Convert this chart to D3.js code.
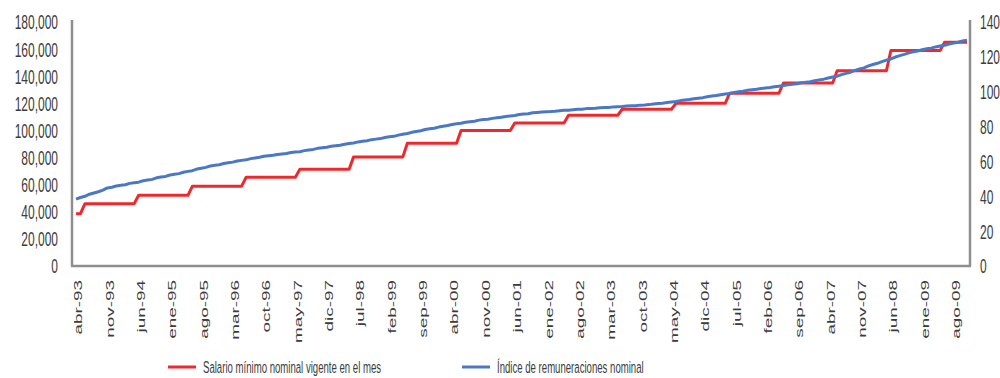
<!DOCTYPE html>
<html>
<head>
<meta charset="utf-8">
<script src="https://cdn.jsdelivr.net/npm/d3@7"></script>
<style>
  html, body { margin: 0; padding: 0; background: #fff; }
  svg { display: block; }
  text { font-family: "Liberation Sans Narrow", "Arial Narrow", "Liberation Sans", sans-serif; fill: #3c3c3c; }
</style>
</head>
<body>
<svg id="chart" width="1000" height="378"></svg>
<script>
// ---- DATA ----
const monthNames = ["ene","feb","mar","abr","may","jun","jul","ago","sep","oct","nov","dic"];
const startYear = 1993, startMonth = 3, monthCount = 200; // abr-93 .. nov-09

// Salario mínimo nominal vigente en el mes (pesos), monthly
const salarioMinimo = [
  // 1993 (abr-dic)
  38600, 38600, 46000, 46000, 46000, 46000, 46000, 46000, 46000,
  // 1994
  46000, 46000, 46000, 46000, 46000, 52150, 52150, 52150, 52150, 52150, 52150, 52150,
  // 1995
  52150, 52150, 52150, 52150, 52150, 58900, 58900, 58900, 58900, 58900, 58900, 58900,
  // 1996
  58900, 58900, 58900, 58900, 58900, 65500, 65500, 65500, 65500, 65500, 65500, 65500,
  // 1997
  65500, 65500, 65500, 65500, 65500, 71400, 71400, 71400, 71400, 71400, 71400, 71400,
  // 1998
  71400, 71400, 71400, 71400, 71400, 80500, 80500, 80500, 80500, 80500, 80500, 80500,
  // 1999
  80500, 80500, 80500, 80500, 80500, 90500, 90500, 90500, 90500, 90500, 90500, 90500,
  // 2000
  90500, 90500, 90500, 90500, 90500, 100000, 100000, 100000, 100000, 100000, 100000, 100000,
  // 2001
  100000, 100000, 100000, 100000, 100000, 105500, 105500, 105500, 105500, 105500, 105500, 105500,
  // 2002
  105500, 105500, 105500, 105500, 105500, 111200, 111200, 111200, 111200, 111200, 111200, 111200,
  // 2003
  111200, 111200, 111200, 111200, 111200, 115648, 115648, 115648, 115648, 115648, 115648, 115648,
  // 2004
  115648, 115648, 115648, 115648, 115648, 120000, 120000, 120000, 120000, 120000, 120000, 120000,
  // 2005
  120000, 120000, 120000, 120000, 120000, 127500, 127500, 127500, 127500, 127500, 127500, 127500,
  // 2006
  127500, 127500, 127500, 127500, 127500, 135000, 135000, 135000, 135000, 135000, 135000, 135000,
  // 2007
  135000, 135000, 135000, 135000, 135000, 144000, 144000, 144000, 144000, 144000, 144000, 144000,
  // 2008
  144000, 144000, 144000, 144000, 144000, 159000, 159000, 159000, 159000, 159000, 159000, 159000,
  // 2009 (ene-nov)
  159000, 159000, 159000, 159000, 159000, 165000, 165000, 165000, 165000, 165000, 165000
];

// Índice de remuneraciones nominal, monthly
const indiceRemuneraciones = [
  // 1993 (abr-dic)
  38.4, 39.3, 40.0, 41.2, 41.9, 42.6, 43.5, 44.8, 45.2,
  // 1994
  45.9, 46.3, 46.6, 47.4, 47.8, 48.1, 48.9, 49.3, 49.7, 50.6, 51.1, 51.4,
  // 1995
  52.2, 52.6, 53.0, 53.8, 54.3, 54.7, 55.6, 56.1, 56.6, 57.4, 57.8, 58.1,
  // 1996
  58.8, 59.2, 59.6, 60.2, 60.6, 60.9, 61.6, 62.0, 62.4, 63.0, 63.3, 63.5,
  // 1997
  64.0, 64.3, 64.6, 65.1, 65.4, 65.6, 66.2, 66.6, 66.9, 67.5, 67.8, 68.1,
  // 1998
  68.7, 69.0, 69.3, 69.9, 70.3, 70.6, 71.2, 71.6, 71.9, 72.5, 72.8, 73.1,
  // 1999
  73.7, 74.1, 74.4, 75.1, 75.6, 76.0, 76.7, 77.2, 77.6, 78.3, 78.7, 79.0,
  // 2000
  79.7, 80.2, 80.6, 81.2, 81.6, 81.9, 82.5, 82.8, 83.1, 83.7, 84.0, 84.2,
  // 2001
  84.7, 85.0, 85.3, 85.8, 86.1, 86.4, 86.9, 87.2, 87.4, 87.9, 88.1, 88.3,
  // 2002
  88.5, 88.6, 88.8, 89.1, 89.3, 89.4, 89.7, 89.9, 90.0, 90.3, 90.4, 90.5,
  // 2003
  90.8, 90.9, 91.0, 91.3, 91.4, 91.5, 91.8, 91.9, 92.0, 92.3, 92.4, 92.6,
  // 2004
  93.0, 93.2, 93.4, 93.8, 94.1, 94.4, 94.9, 95.2, 95.5, 96.0, 96.3, 96.6,
  // 2005
  97.1, 97.5, 97.8, 98.3, 98.7, 99.0, 99.6, 100.0, 100.3, 100.8, 101.1, 101.4,
  // 2006
  101.8, 102.1, 102.4, 102.9, 103.2, 103.5, 104.0, 104.3, 104.6, 105.1, 105.4, 105.7,
  // 2007
  106.3, 106.8, 107.2, 107.9, 108.4, 108.9, 109.8, 110.5, 111.2, 112.2, 113.0, 113.7,
  // 2008
  114.8, 115.6, 116.3, 117.3, 118.1, 118.8, 119.9, 120.7, 121.4, 122.3, 122.9, 123.4,
  // 2009 (ene-nov)
  124.1, 124.6, 125.0, 125.7, 126.2, 126.6, 127.4, 127.9, 128.4, 129.1, 129.6
];

const xTickLabels = ["abr-93","nov-93","jun-94","ene-95","ago-95","mar-96","oct-96","may-97","dic-97",
  "jul-98","feb-99","sep-99","abr-00","nov-00","jun-01","ene-02","ago-02","mar-03","oct-03","may-04",
  "dic-04","jul-05","feb-06","sep-06","abr-07","nov-07","jun-08","ene-09","ago-09"];
const leftTicks = [0, 20000, 40000, 60000, 80000, 100000, 120000, 140000, 160000, 180000];
const rightTicks = [0, 20, 40, 60, 80, 100, 120, 140];
const seriesNames = ["Salario mínimo nominal vigente en el mes", "Índice de remuneraciones nominal"];

// ---- CATEGORIES ----
const months = [];
for (let i = 0; i < monthCount; i++) {
  const m = (startMonth + i) % 12;
  const y = startYear + Math.floor((startMonth + i) / 12);
  months.push(monthNames[m] + "-" + String(y % 100).padStart(2, "0"));
}

// ---- LAYOUT ----
const svg = d3.select("#chart");
const plot = { left: 72, right: 970, top: 22, bottom: 266 };
const x = d3.scalePoint().domain(months).range([76, 967]);
const yL = d3.scaleLinear().domain([0, 180000]).range([plot.bottom, plot.top]);
const yR = d3.scaleLinear().domain([0, 140]).range([plot.bottom, plot.top]);
const SY = 1.4, SX = 0.8;
const axisColor = "#8e8e8e";
const red = "#f0282c", blue = "#4a78c6";
const fmt = d3.format(",");

// Lines
const lineRed = d3.line().x((d, i) => x(months[i])).y(d => yL(d));
const lineBlue = d3.line().x((d, i) => x(months[i])).y(d => yR(d));

svg.append("path").datum(salarioMinimo)
  .attr("d", lineRed).attr("fill", "none").attr("stroke", red)
  .attr("stroke-width", 3).attr("stroke-linejoin", "round");
svg.append("path").datum(indiceRemuneraciones)
  .attr("d", lineBlue).attr("fill", "none").attr("stroke", blue)
  .attr("stroke-width", 3).attr("stroke-linejoin", "round");

// Axis lines
svg.append("line").attr("x1", plot.left).attr("x2", plot.left).attr("y1", 20).attr("y2", plot.bottom)
  .attr("stroke", axisColor).attr("stroke-width", 2.5);
svg.append("line").attr("x1", plot.right).attr("x2", plot.right).attr("y1", 20).attr("y2", plot.bottom)
  .attr("stroke", axisColor).attr("stroke-width", 2.5);
svg.append("line").attr("x1", plot.left - 1).attr("x2", plot.right + 1).attr("y1", plot.bottom).attr("y2", plot.bottom)
  .attr("stroke", axisColor).attr("stroke-width", 2.5);

// Left axis labels
const gL = svg.append("g").attr("transform", `translate(${plot.left},0)`)
  .call(d3.axisLeft(yL).tickValues(leftTicks).tickFormat(fmt).tickSize(0));
gL.select(".domain").remove();
gL.selectAll(".tick text").attr("font-size", 15).attr("x", null).attr("dy", null)
  .attr("text-anchor", "end")
  .attr("transform", `translate(-14,0) scale(${SX},${SY}) translate(0,${0.33 * 15})`)
  .attr("fill", "#3c3c3c");

// Right axis labels
const gR = svg.append("g").attr("transform", `translate(${plot.right},0)`)
  .call(d3.axisRight(yR).tickValues(rightTicks).tickSize(0));
gR.select(".domain").remove();
gR.selectAll(".tick text").attr("font-size", 15).attr("x", null).attr("dy", null)
  .attr("text-anchor", "start")
  .attr("transform", `translate(10,0) scale(${SX},${SY}) translate(0,${0.33 * 15})`)
  .attr("fill", "#3c3c3c");

// Bottom axis labels (rotated)
const gB = svg.append("g").attr("transform", `translate(0,${plot.bottom})`)
  .call(d3.axisBottom(x).tickValues(xTickLabels).tickSize(0));
gB.select(".domain").remove();
gB.selectAll(".tick text").attr("font-size", 13.5).attr("y", null).attr("dy", null)
  .attr("text-anchor", "end")
  .attr("transform", `translate(2,14) scale(${SX},${SY}) rotate(-90) translate(0,${0.36 * 13.5})`)
  .attr("fill", "#3c3c3c");

// Legend
const legend = [
  { name: seriesNames[0], color: red, x: 168, tx: 203 },
  { name: seriesNames[1], color: blue, x: 462, tx: 497 }
];
const lg = svg.append("g");
legend.forEach(l => {
  lg.append("line").attr("x1", l.x).attr("x2", l.x + 28).attr("y1", 367).attr("y2", 367)
    .attr("stroke", l.color).attr("stroke-width", 3);
  lg.append("text").attr("transform", `translate(${l.tx},367) scale(${SX},${SY}) translate(0,${0.34 * 12})`)
    .attr("font-size", 12).text(l.name);
});
</script>
</body>
</html>
